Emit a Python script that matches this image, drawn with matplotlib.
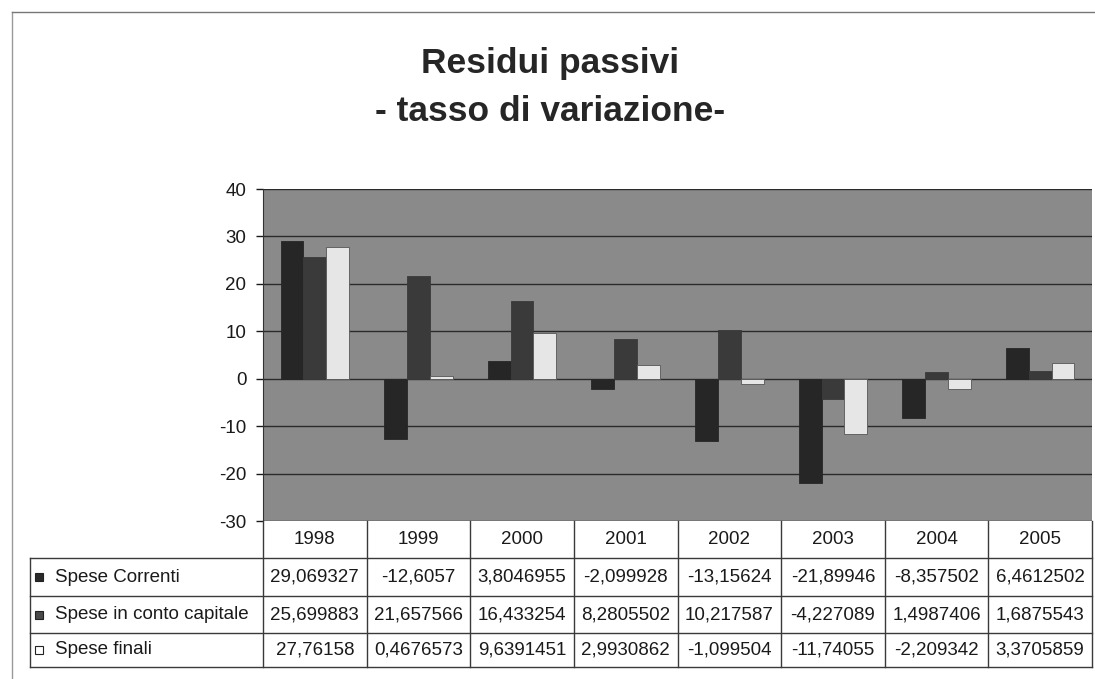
import matplotlib
matplotlib.use("Agg")
import matplotlib.pyplot as plt
from matplotlib.patches import Rectangle
import numpy as np

plt.rcParams['font.family'] = ['Liberation Sans', 'DejaVu Sans']
plt.rcParams['axes.unicode_minus'] = False

years = ['1998', '1999', '2000', '2001', '2002', '2003', '2004', '2005']
spese_correnti = [29.069327, -12.6057, 3.8046955, -2.099928, -13.15624, -21.89946, -8.357502, 6.4612502]
spese_capitale = [25.699883, 21.657566, 16.433254, 8.2805502, 10.217587, -4.227089, 1.4987406, 1.6875543]
spese_finali = [27.76158, 0.4676573, 9.6391451, 2.9930862, -1.099504, -11.74055, -2.209342, 3.3705859]
series_names = ['Spese Correnti', 'Spese in conto capitale', 'Spese finali']

W, H = 1095, 679
TXT = '#1a1a1a'


def box(l, t, r, b):
    # pixel box (from top-left) -> figure fraction rect
    return [l / W, 1 - b / H, (r - l) / W, (b - t) / H]


fig = plt.figure(figsize=(W / 100, H / 100), dpi=100)

# outer frame (left and top edges visible in the scan)
fig.add_artist(plt.Line2D([12 / W, 12 / W], [0, 1 - 12 / H], color='#9a9a9a', lw=1))
fig.add_artist(plt.Line2D([12 / W, 1], [1 - 12 / H, 1 - 12 / H], color='#777777', lw=1))

fig.text(550 / W, 1 - 73 / H, 'Residui passivi', ha='center', va='baseline',
         fontsize=25.5, weight='bold', color='#262626')
fig.text(550 / W, 1 - 121 / H, '- tasso di variazione-', ha='center', va='baseline',
         fontsize=25.5, weight='bold', color='#262626')

L, T, R, B = 263, 189, 1092, 521
ax = fig.add_axes(box(L, T, R, B))
ax.set_facecolor('#8a8a8a')

series = [spese_correnti, spese_capitale, spese_finali]
colors = ['#262626', '#3a3a3a', '#e6e6e6']
edges = ['#262626', '#3a3a3a', '#555555']
x = np.arange(len(years))
w = 0.22
for i, vals in enumerate(series):
    ax.bar(x + (i - 1) * w, vals, w, color=colors[i], edgecolor=edges[i], lw=0.6, zorder=3)

ax.set_xlim(-0.5, len(years) - 0.5)
ax.set_ylim(-30, 40)
ax.set_yticks(range(-30, 41, 10))
ax.set_xticks([])
ax.grid(axis='y', color='#2a2a2a', lw=1)
ax.set_axisbelow(True)
for s in ['top', 'right', 'bottom']:
    ax.spines[s].set_visible(False)
ax.spines['left'].set_color('#333333')
ax.tick_params(axis='y', length=5, width=1, pad=7, labelsize=13.5, colors=TXT)

# data table under the plot
tax = fig.add_axes([0, 0, 1, 1], zorder=5)
tax.set_xlim(0, W)
tax.set_ylim(H, 0)
tax.axis('off')
tax.patch.set_alpha(0)

col_edges = np.linspace(L, R, len(years) + 1)
row_edges = [B, 558, 596, 633, 667]
left = 30
lc = '#3a3a3a'
for xe in col_edges:
    tax.plot([xe, xe], [B, row_edges[-1]], color=lc, lw=1)
tax.plot([left, left], [row_edges[1], row_edges[-1]], color=lc, lw=1)
for ye in row_edges[1:]:
    tax.plot([left, R], [ye, ye], color=lc, lw=1)

centers = (col_edges[:-1] + col_edges[1:]) / 2
for cx, yr in zip(centers, years):
    tax.text(cx, (row_edges[0] + row_edges[1]) / 2, yr, ha='center', va='center',
             fontsize=13.5, color=TXT)

mark_face = ['#2a2a2a', '#4a4a4a', 'white']
for r, (name, vals) in enumerate(zip(series_names, series)):
    cy = (row_edges[r + 1] + row_edges[r + 2]) / 2
    tax.add_patch(Rectangle((35, cy - 4), 8, 8, facecolor=mark_face[r],
                            edgecolor='#222222', lw=0.8))
    tax.text(55, cy, name, ha='left', va='center', fontsize=13.5, color=TXT)
    for cx, v in zip(centers, vals):
        tax.text(cx, cy, str(v).replace('.', ','), ha='center', va='center',
                 fontsize=13.5, color=TXT)

fig.savefig('out.png', dpi=100)
